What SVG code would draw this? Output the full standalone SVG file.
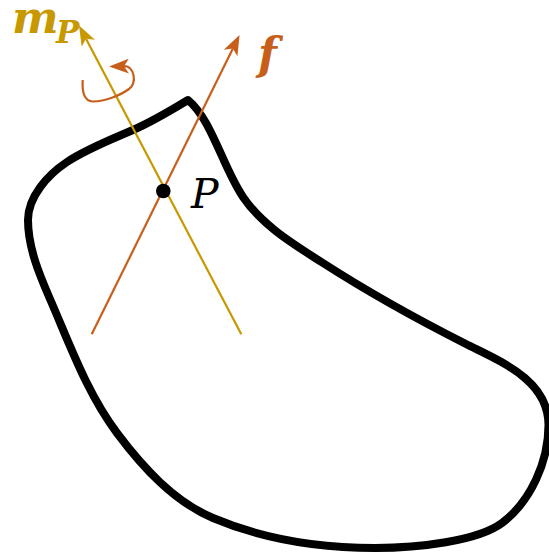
<svg xmlns="http://www.w3.org/2000/svg" width="549" height="558" viewBox="0 0 549 558">
  <style>
    .body { fill: none; stroke: #000; stroke-width: 8; stroke-linejoin: round; }
    .force { fill: none; stroke: #c75f1a; stroke-width: 2.2; }
    .moment { fill: none; stroke: #c79800; stroke-width: 2.2; }
    .lbl { font-family: "DejaVu Serif", "Liberation Serif", serif; font-style: italic; }
  </style>
  <defs>
    <marker id="headF" markerUnits="userSpaceOnUse" markerWidth="21" markerHeight="15" refX="5" refY="7.5" orient="auto" viewBox="0 0 21 15">
      <path d="M0,0 L20,7.5 L0,15 L5,7.5 Z" fill="#c75f1a"/>
    </marker>
    <marker id="headM" markerUnits="userSpaceOnUse" markerWidth="21" markerHeight="15" refX="5" refY="7.5" orient="auto" viewBox="0 0 21 15">
      <path d="M0,0 L20,7.5 L0,15 L5,7.5 Z" fill="#c79800"/>
    </marker>
  </defs>

  <g id="rigid-body">
    <path class="body" d="M188,100 C212,120 222.3,166.3 243,197 C262.4,225.7 293.9,244.3 323,263 C369,292.6 417.2,319.3 466,344 C500.3,361.3 548.5,380 548.5,425 C548.5,461.2 531,501.3 502,523 C478,541 418,548 375,548 C320.1,548 263.5,539.4 213,518 C173.7,501.3 142.6,467.2 117,433 C87.1,393.1 70,344.9 50,299 C39.1,273.9 28,247.3 28,220 C28,196.7 47.7,174.8 67,162 C87.3,148.6 110.6,139.8 133,130 C152.2,121.6 177.8,106.2 188,100 Z"/>
  </g>

  <g id="connectors">
    <line id="force-f" class="force" x1="91.7" y1="334.3" x2="232.9" y2="48.5" marker-end="url(#headF)"/>
    <line id="moment-mP" class="moment" x1="241.3" y1="334.3" x2="86" y2="38.8" marker-end="url(#headM)"/>
    <path id="rotation" class="force" d="M82.7,80 C82,92 84,101 93,101.5 C105,101.5 121,95 129,89 C137,84 135,66 124,66.2" marker-end="url(#headF)"/>
  </g>

  <g id="point-P">
    <circle cx="163.3" cy="191" r="7.3" fill="#000"/>
    <text class="lbl" x="191" y="208" font-size="41" fill="#000">P</text>
  </g>

  <g id="label-f">
    <text class="lbl" x="258" y="69" font-size="44" font-weight="bold" fill="#c75f1a">f</text>
  </g>

  <g id="label-mP">
    <text class="lbl" x="12" y="33" font-size="44" font-weight="bold" fill="#c79800">m<tspan x="56" y="43" font-size="31">P</tspan></text>
  </g>
</svg>
